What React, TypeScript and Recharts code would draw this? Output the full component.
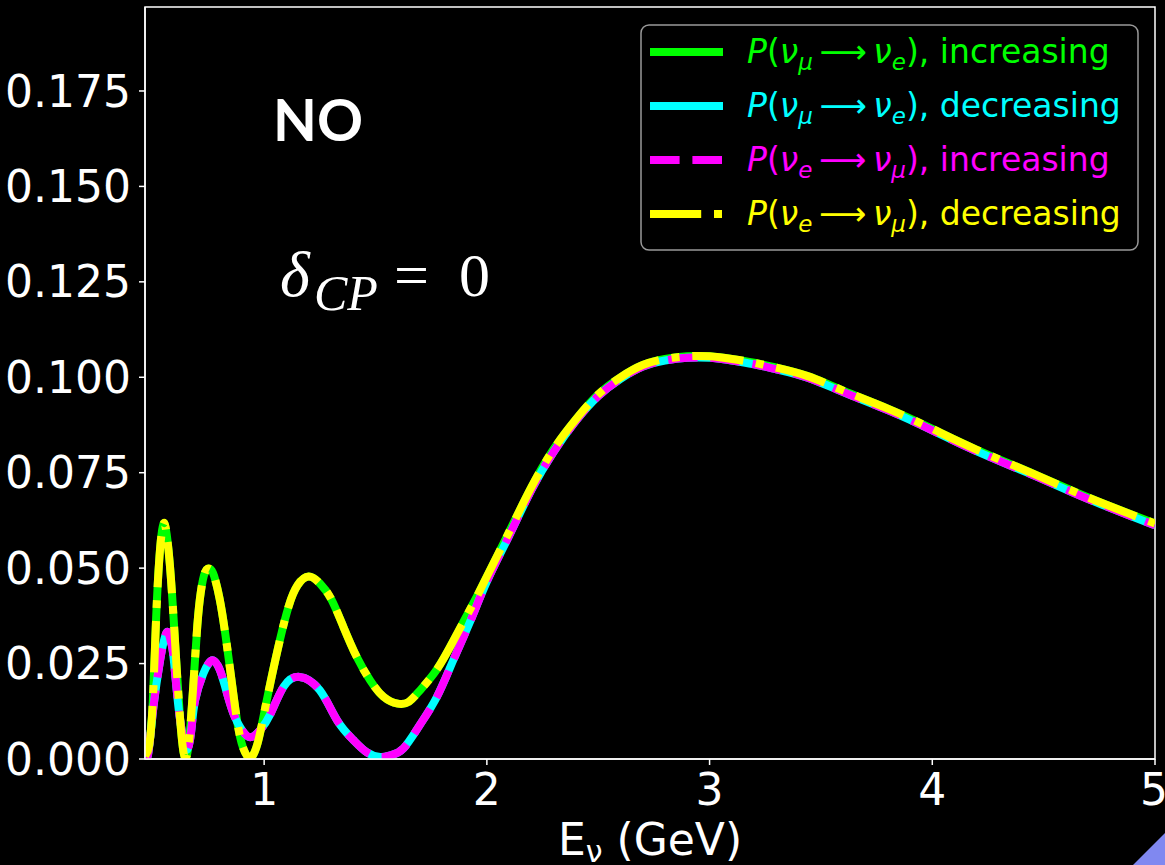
import { LineChart, Line, XAxis, YAxis, ReferenceArea } from "recharts";

// energies (GeV) and probabilities
// upper curve: P(numu->nue) increasing == P(nue->numu) decreasing
const upperE = [
  0.465, 0.475, 0.485, 0.5, 0.515, 0.53, 0.542, 0.552, 0.562, 0.575, 0.59, 0.607, 0.622, 0.635, 0.645,
  0.655, 0.668, 0.685, 0.7, 0.715, 0.735, 0.757, 0.775, 0.8, 0.825, 0.855, 0.88, 0.905, 0.93, 0.945,
  0.97, 1.0, 1.03, 1.07, 1.11, 1.15, 1.2, 1.25, 1.3, 1.356, 1.416, 1.476, 1.536, 1.6, 1.65, 1.7,
  1.776, 1.85, 1.9, 1.95, 2.0, 2.1, 2.2, 2.3, 2.4, 2.5, 2.6, 2.7, 2.8, 2.9, 3.0, 3.1, 3.2, 3.3,
  3.44, 3.6, 3.8, 4.0, 4.2, 4.455, 4.7, 5.0,
];
const upperP = [
  0.0008, 0.0018, 0.004, 0.015, 0.037, 0.053, 0.06, 0.0618, 0.059, 0.052, 0.04, 0.024, 0.011, 0.003, 0.0003,
  0.0015, 0.008, 0.022, 0.035, 0.0435, 0.049, 0.0498, 0.048, 0.042, 0.033, 0.02, 0.0095, 0.003, 0.0003, 0.0005,
  0.004, 0.012, 0.0205, 0.031, 0.04, 0.0455, 0.0478, 0.046, 0.042, 0.0346, 0.0267, 0.0206, 0.0163, 0.0145, 0.015, 0.018,
  0.0235, 0.031, 0.0365, 0.042, 0.0478, 0.0595, 0.0712, 0.0812, 0.089, 0.0955, 0.1, 0.1032, 0.1048, 0.1055, 0.1055, 0.1048, 0.1038, 0.1025,
  0.1003, 0.0965, 0.0918, 0.0865, 0.081, 0.0747, 0.0685, 0.0617,
];

// lower curve: P(numu->nue) decreasing == P(nue->numu) increasing
const lowerE = [
  0.465, 0.48, 0.503, 0.533, 0.55, 0.566, 0.58, 0.593, 0.615, 0.638, 0.655, 0.672, 0.69, 0.727, 0.75,
  0.772, 0.8, 0.825, 0.862, 0.9, 0.937, 0.982, 1.03, 1.087, 1.159, 1.25, 1.327, 1.4, 1.46, 1.521, 1.57,
  1.626, 1.7, 1.776, 1.85, 1.925, 2.0, 2.1, 2.2, 2.3, 2.4, 2.5, 2.6, 2.7, 2.8, 2.9, 3.0, 3.1, 3.2, 3.3,
  3.44, 3.6, 3.8, 4.0, 4.2, 4.455, 4.7, 5.0,
];
const lowerP = [
  0.0004, 0.0016, 0.0137, 0.0259, 0.031, 0.0333, 0.031, 0.0267, 0.0137, 0.005, 0.0025, 0.007, 0.0154, 0.0224, 0.025,
  0.0258, 0.0235, 0.0189, 0.0119, 0.0076, 0.0057, 0.0076, 0.012, 0.0189, 0.0215, 0.018, 0.0102, 0.005, 0.0018, 0.0005, 0.001,
  0.0028, 0.009, 0.0163, 0.026, 0.036, 0.0465, 0.0585, 0.0705, 0.0805, 0.0886, 0.0951, 0.0996, 0.1028, 0.1044, 0.1051, 0.1051, 0.1044, 0.1034, 0.1021,
  0.0999, 0.0961, 0.0914, 0.0861, 0.0806, 0.0743, 0.0681, 0.0612,
];

const xTicks = [1, 2, 3, 4, 5];
const yTicks = [0, 0.025, 0.05, 0.075, 0.1, 0.125, 0.15, 0.175];

const upperData = upperE.map((e, i) => ({ E: e, P: upperP[i] }));
const lowerData = lowerE.map((e, i) => ({ E: e, P: lowerP[i] }));

const X_MIN = 0.465;
const X_MAX = 5;
const Y_MAX = 0.197;

const LW = 8;
const DASHED = `${3.7 * LW} ${1.6 * LW}`;
const DASHDOT = `${6.4 * LW} ${1.6 * LW} ${1 * LW} ${1.6 * LW}`;

const legendItems = [
  { color: "#00ff00", dash: undefined, a: "μ", b: "e", word: "increasing" },
  { color: "#00ffff", dash: undefined, a: "μ", b: "e", word: "decreasing" },
  { color: "#ff00ff", dash: DASHED, a: "e", b: "μ", word: "increasing" },
  { color: "#ffff00", dash: DASHDOT, a: "e", b: "μ", word: "decreasing" },
];

const tickStyle = { fill: "#fff", fontSize: 44, fontFamily: "DejaVu Sans" };

export default function App() {
  return (
    <div style={{ position: "absolute", left: 0, top: 0, width: 1165, height: 865, background: "#000" }}>
      <LineChart width={1165} height={865} margin={{ top: 7, right: 10, bottom: 0, left: 0 }}>
        <XAxis
          type="number"
          dataKey="E"
          domain={[X_MIN, X_MAX]}
          ticks={xTicks}
          allowDataOverflow
          height={106}
          tick={tickStyle}
          tickSize={6}
          tickMargin={9}
          axisLine={{ stroke: "#fff", strokeWidth: 1.5 }}
          tickLine={{ stroke: "#fff", strokeWidth: 1.5 }}
        />
        <YAxis
          type="number"
          domain={[0, Y_MAX]}
          ticks={yTicks}
          allowDataOverflow
          width={145}
          tick={tickStyle}
          tickSize={6}
          tickMargin={8}
          tickFormatter={(v: number) => v.toFixed(3)}
          axisLine={{ stroke: "#fff", strokeWidth: 1.5 }}
          tickLine={{ stroke: "#fff", strokeWidth: 1.5 }}
        />
        <ReferenceArea x1={X_MIN} x2={X_MAX} y1={0} y2={Y_MAX} fill="none" stroke="#fff" strokeWidth={1.5} />
        <Line data={upperData} dataKey="P" type="natural" stroke="#00ff00" strokeWidth={LW} dot={false} isAnimationActive={false} />
        <Line data={lowerData} dataKey="P" type="natural" stroke="#00ffff" strokeWidth={LW} dot={false} isAnimationActive={false} />
        <Line data={lowerData} dataKey="P" type="natural" stroke="#ff00ff" strokeWidth={LW} strokeDasharray={DASHED} dot={false} isAnimationActive={false} />
        <Line data={upperData} dataKey="P" type="natural" stroke="#ffff00" strokeWidth={LW} strokeDasharray={DASHDOT} dot={false} isAnimationActive={false} />
      </LineChart>

      <svg width={1165} height={865} style={{ position: "absolute", left: 0, top: 0, pointerEvents: "none" }}>
        {/* annotations */}
        <text x={273} y={141} fill="#fff" fontSize={57} fontFamily="Lato" fontWeight="bold">NO</text>
        <text x={280} y={296} fill="#fff" fontSize={64} fontFamily="Liberation Serif" fontStyle="italic">δ</text>
        <text x={314} y={310} fill="#fff" fontSize={50} fontFamily="Liberation Serif" fontStyle="italic">CP</text>
        <text x={394} y={296} fill="#fff" fontSize={62} fontFamily="Liberation Serif">=</text>
        <text x={459} y={296} fill="#fff" fontSize={62} fontFamily="Liberation Serif">0</text>

        {/* x axis label */}
        <text x={650} y={855} fill="#fff" fontSize={44} fontFamily="DejaVu Sans" textAnchor="middle">
          E<tspan fontSize={30} dy={7}>ν</tspan><tspan dy={-7}> (GeV)</tspan>
        </text>

        {/* legend */}
        <rect x={641} y={25} width={497} height={225} rx={8} fill="#000" stroke="#999" strokeWidth={1.5} />
        {legendItems.map((it, i) => {
          const cy = 52 + i * 54;
          return (
            <g key={i}>
              <line x1={650} x2={723} y1={cy} y2={cy} stroke={it.color} strokeWidth={LW} strokeDasharray={it.dash} />
              <text x={747} y={cy + 11} fill={it.color} fontSize={33} fontFamily="DejaVu Sans">
                <tspan fontStyle="italic">P</tspan>
                <tspan>(</tspan>
                <tspan fontStyle="italic">ν</tspan>
                <tspan fontStyle="italic" fontSize={23} dy={7}>{it.a}</tspan>
                <tspan dy={-7}>{"\u2009⟶\u2009"}</tspan>
                <tspan fontStyle="italic">ν</tspan>
                <tspan fontStyle="italic" fontSize={23} dy={7}>{it.b}</tspan>
                <tspan dy={-7}>), {it.word}</tspan>
              </text>
            </g>
          );
        })}

        {/* slide corner */}
        <polygon points="1133,865 1165,865 1165,833" fill="#8088f0" />
      </svg>
    </div>
  );
}
